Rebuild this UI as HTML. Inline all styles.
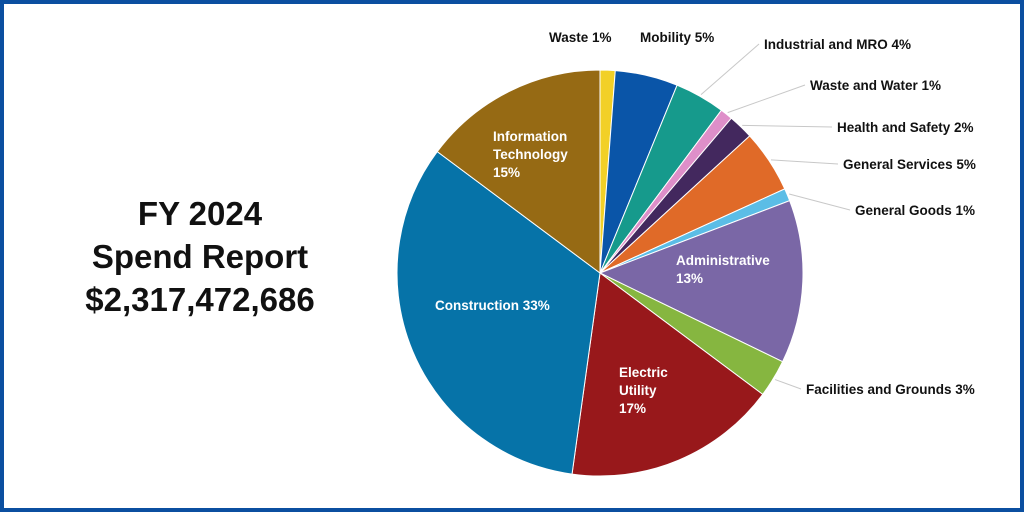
<!DOCTYPE html>
<html><head><meta charset="utf-8"><style>
body{margin:0;width:1024px;height:512px;overflow:hidden;background:#fff;font-family:"Liberation Sans",sans-serif}
#frame{position:absolute;left:0;top:0;width:1016px;height:504px;border:4px solid #0b4fa0;background:#fff}
#title{position:absolute;left:40px;top:192px;width:320px;text-align:center;font-weight:bold;font-size:33px;line-height:43px;color:#111}
svg{position:absolute;left:0;top:0}
</style></head><body>
<div id="frame"></div>
<div id="title">FY 2024<br>Spend Report<br>$2,317,472,686</div>
<svg id="chart" width="1024" height="512"></svg>
<script>
const categories=["Waste","Mobility","Industrial and MRO","Waste and Water","Health and Safety","General Services","General Goods","Administrative","Facilities and Grounds","Electric Utility","Construction","Information Technology"];
const values=[1.2,5,4,1,2,5,1,13,3,17,33,14.8];
const labels=["Waste 1%","Mobility 5%","Industrial and MRO 4%","Waste and Water 1%","Health and Safety 2%","General Services 5%","General Goods 1%","Administrative 13%","Facilities and Grounds 3%","Electric Utility 17%","Construction 33%","Information Technology 15%"];
const colors=["#f2d027","#0a55a8","#169a8c","#de8fc9","#43285e","#e06a28","#5bbde6","#7a67a6","#86b640","#98181b","#0673a8","#966a14"];
const cx=600,cy=273,R=203;
const svg=document.getElementById('chart');const NS="http://www.w3.org/2000/svg";
const total=values.reduce((a,b)=>a+b,0);
function pt(a,r){return [cx+r*Math.sin(a),cy-r*Math.cos(a)];}
// label placement: [x, y(baseline), anchor lines] ; inside labels use multi lines
const outside={0:[549,42],1:[640,42],2:[764,49],3:[810,90],4:[837,132],5:[843,169],6:[855,215],8:[806,394]};
const inside={7:[676,[["Administrative",0],["13%",18]],265],9:[619,[["Electric",0],["Utility",18],["17%",36]],377],10:[435,[["Construction 33%",0]],310],11:[493,[["Information",0],["Technology",18],["15%",36]],141]};
let acc=0;
values.forEach((v,i)=>{
 const a0=acc/total*2*Math.PI;acc+=v;const a1=acc/total*2*Math.PI;
 const p0=pt(a0,R),p1=pt(a1,R);const large=(a1-a0)>Math.PI?1:0;
 const p=document.createElementNS(NS,'path');
 p.setAttribute('d',`M${cx},${cy}L${p0[0]},${p0[1]}A${R},${R} 0 ${large} 1 ${p1[0]},${p1[1]}Z`);
 p.setAttribute('fill',colors[i]);p.setAttribute('stroke','#fff');p.setAttribute('stroke-width','1');
 
 
 svg.appendChild(p);
 const am=(a0+a1)/2;
 if(outside[i]){
  const [lx,ly]=outside[i];
  const e=pt(am,R+2);
  if(i>=2){
   const l=document.createElementNS(NS,'line');
   l.setAttribute('x1',e[0]);l.setAttribute('y1',e[1]);l.setAttribute('x2',lx-5);l.setAttribute('y2',ly-5);
   l.setAttribute('stroke','#c8c8c8');l.setAttribute('stroke-width','1');
   
   
   svg.appendChild(l);
  }
  const t=document.createElementNS(NS,'text');
  t.setAttribute('x',lx);t.setAttribute('y',ly);t.setAttribute('font-size','13.5');t.setAttribute('font-weight','bold');t.setAttribute('fill','#111');
  t.setAttribute('font-family','Liberation Sans, sans-serif');
  t.textContent=labels[i];
  
  
  svg.appendChild(t);
 } else if(inside[i]){
  const [lx,lines,ly]=inside[i];
  lines.forEach(([s,dy])=>{
   const t=document.createElementNS(NS,'text');
   t.setAttribute('x',lx);t.setAttribute('y',ly+dy);t.setAttribute('font-size','13.5');t.setAttribute('font-weight','bold');t.setAttribute('fill','#fff');
   t.setAttribute('font-family','Liberation Sans, sans-serif');
   t.textContent=s;
   
   
   svg.appendChild(t);
  });
 }
});
</script>
</body></html>
